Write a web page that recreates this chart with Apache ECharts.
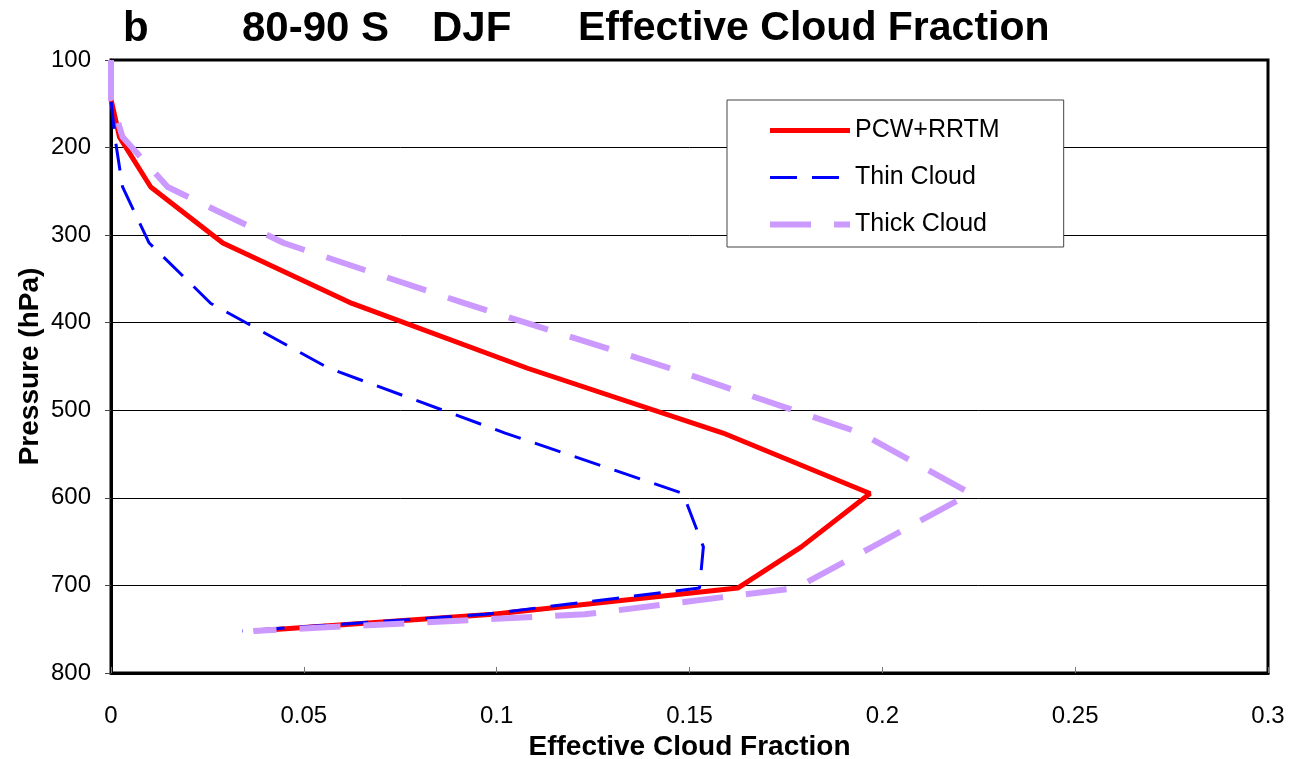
<!DOCTYPE html>
<html>
<head>
<meta charset="utf-8">
<script src="https://cdn.jsdelivr.net/npm/echarts@6/dist/echarts.min.js"></script>
<style>
html,body{margin:0;padding:0;background:#fff;}
#chart{width:1297px;height:759px;}
</style>
</head>
<body>
<div id="chart"></div>
<script>
const pressureLevels = [100, 145, 188, 245, 309, 378, 452, 526, 595, 656, 703, 733, 752];
const pcwRrtm    = [0, 0, 0.0022, 0.0103, 0.029, 0.0625, 0.108, 0.1587, 0.1968, 0.179, 0.1625, 0.099, 0.037];
const thinCloud  = [0, 0, 0.001, 0.003, 0.0099, 0.0259, 0.0565, 0.1022, 0.1483, 0.1536, 0.1526, 0.097, 0.034];
const thickCloud = [0, 0, 0.003, 0.0147, 0.0448, 0.0918, 0.1449, 0.1944, 0.2229, 0.1974, 0.1776, 0.1229, 0.037];
const seriesNames = ['PCW+RRTM', 'Thin Cloud', 'Thick Cloud'];
const titleParts = ['b', '80-90 S', 'DJF', 'Effective Cloud Fraction'];
const xTickLabels = {0: '0', 0.05: '0.05', 0.1: '0.1', 0.15: '0.15', 0.2: '0.2', 0.25: '0.25', 0.3: '0.3'};

const FONT = "'Liberation Sans', Arial, sans-serif";
function pairs(xs) { return xs.map((v, i) => [v, pressureLevels[i]]); }

const chart = echarts.init(document.getElementById('chart'));
const titleX = [123, 242, 432, 578];
const titleSize = [42, 42, 42, 41];
const hiddenSymbol = { color: 'transparent', borderColor: 'transparent', borderWidth: 0, opacity: 0 };
chart.setOption({
  animation: false,
  backgroundColor: '#fff',
  graphic: titleParts.map((t, i) => ({
    type: 'text', left: titleX[i], top: 8,
    style: { text: t, font: "bold " + titleSize[i] + "px " + FONT, fill: '#000' }
  })),
  grid: { left: 111, right: 29, top: 60, bottom: 86, outerBoundsMode: 'none', containLabel: false,
    show: true, borderColor: '#000', borderWidth: 3, backgroundColor: '#fff' },
  legend: {
    orient: 'vertical', left: 727, top: 100,
    data: seriesNames.map(n => ({ name: n, itemStyle: hiddenSymbol })),
    backgroundColor: '#fff', borderColor: '#444', borderWidth: 1,
    padding: [18, 64, 10, 40],
    itemWidth: 80, itemHeight: 14, itemGap: 22,
    itemStyle: hiddenSymbol,
    lineStyle: { width: 'inherit' },
    textStyle: { fontFamily: FONT, fontSize: 25, color: '#000' }
  },
  xAxis: {
    type: 'value', min: 0, max: 0.3, interval: 0.05,
    name: 'Effective Cloud Fraction', nameLocation: 'middle', nameGap: 60,
    nameTextStyle: { fontFamily: FONT, fontSize: 28, fontWeight: 'bold', color: '#000' },
    axisLine: { show: true, lineStyle: { color: '#000', width: 3 } },
    axisTick: { show: true, inside: true, length: 6, lineStyle: { color: '#777' } },
    axisLabel: { margin: 31, fontFamily: FONT, fontSize: 24, color: '#000',
      formatter: v => xTickLabels[Math.round(v * 100) / 100] ?? String(v) },
    splitLine: { show: false }
  },
  yAxis: {
    type: 'value', inverse: true, min: 100, max: 800, interval: 100,
    name: 'Pressure (hPa)', nameLocation: 'middle', nameGap: 67, nameRotate: 90, nameMoveOverlap: false,
    nameTextStyle: { fontFamily: FONT, fontSize: 28, fontWeight: 'bold', color: '#000' },
    axisLine: { show: true, lineStyle: { color: '#000', width: 3 } },
    axisTick: { show: true, inside: false, length: 6, lineStyle: { color: '#444' } },
    axisLabel: { margin: 20, fontFamily: FONT, fontSize: 24, color: '#000' },
    splitLine: { show: true, lineStyle: { color: '#000', width: 1 } }
  },
  series: [
    { name: seriesNames[0], type: 'line', symbol: 'none', data: pairs(pcwRrtm),
      lineStyle: { color: '#ff0000', width: 5 }, itemStyle: { color: '#ff0000' } },
    { name: seriesNames[1], type: 'line', symbol: 'none', data: pairs(thinCloud),
      lineStyle: { color: '#0000ff', width: 3, type: [27, 15] }, itemStyle: { color: '#0000ff' } },
    { name: seriesNames[2], type: 'line', symbol: 'none', data: pairs(thickCloud),
      lineStyle: { color: '#cc99ff', width: 6, type: [41, 23] }, itemStyle: { color: '#cc99ff' } }
  ]
});
</script>
</body>
</html>
